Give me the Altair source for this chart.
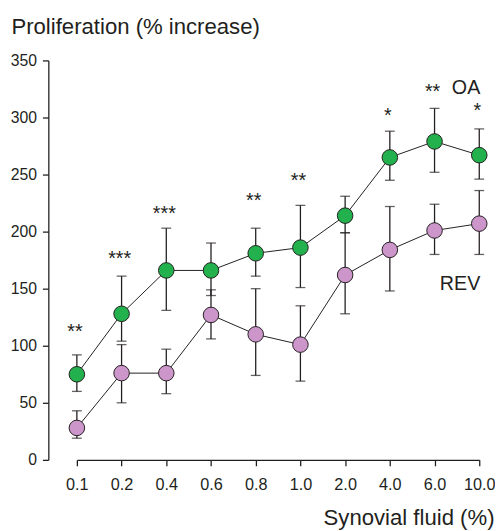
import altair as alt
import pandas as pd

concentrations = ["0.1", "0.2", "0.4", "0.6", "0.8", "1.0", "2.0", "4.0", "6.0", "10.0"]

oa_mean = [75, 128, 166, 166, 181, 186, 214, 265, 279, 267]
oa_hi = [92, 161, 203, 190, 203, 223, 231, 288, 308, 290]
oa_lo = [60, 104, 131, 144, 161, 151, 199, 245, 252, 246]

rev_mean = [28, 76, 76, 127, 110, 101, 162, 184, 201, 207]
rev_hi = [43, 101, 97, 149, 150, 135, 199, 222, 224, 236]
rev_lo = [19, 50, 58, 106, 74, 69, 128, 148, 180, 180]

star_labels = ["**", "***", "***", "", "**", "**", "", "*", "**", "*"]
star_y = [107, 171, 210, 0, 222, 239, 0, 296, 317, 300]

series_names = ["OA", "REV"]
series_colors = ["#22b14c", "#cc96cb"]
series_label_x = ["10.0", "10.0"]
series_label_y = [321, 149]

y_ticks = [0, 50, 100, 150, 200, 250, 300, 350]

DARK = "#231f20"
FONT = "Liberation Sans"

rows = []
for name, m, h, l in [("OA", oa_mean, oa_hi, oa_lo), ("REV", rev_mean, rev_hi, rev_lo)]:
    for c, mv, hv, lv in zip(concentrations, m, h, l):
        rows.append({"series": name, "conc": c, "mean": mv, "hi": hv, "lo": lv})
df = pd.DataFrame(rows)

stars = pd.DataFrame({"conc": concentrations, "label": star_labels, "y": star_y})
stars = stars[stars["label"] != ""]

labels_df = pd.DataFrame({"conc": series_label_x, "label": series_names, "y": series_label_y})

x_enc = alt.X(
    "conc:O",
    sort=concentrations,
    scale=alt.Scale(type="point", range=[16, 425], padding=0),
    axis=alt.Axis(
        title="Synovial fluid (%)",
        titleX=440,
        titleY=66,
        titleAlign="right",
        titleBaseline="alphabetic",
        titleFont=FONT,
        titleFontSize=22.5,
        titleFontWeight="normal",
        titleColor=DARK,
        labelFont=FONT,
        labelFontSize=16.5,
        labelColor=DARK,
        labelAngle=0,
        labelPadding=11,
        tickSize=6,
        ticks=True,
        domain=True,
    ),
)

y_scale = alt.Scale(domain=[0, 350], nice=False, zero=True)
y_axis = alt.Axis(
    title="Proliferation (% increase)",
    titleAngle=0,
    titleX=-38,
    titleY=-27,
    titleAlign="left",
    titleBaseline="alphabetic",
    titleFont=FONT,
    titleFontSize=22.5,
    titleFontWeight="normal",
    titleColor=DARK,
    labelFont=FONT,
    labelFontSize=16,
    labelColor=DARK,
    values=y_ticks,
    offset=13,
    tickSize=6,
    labelPadding=6,
    grid=False,
)

y_enc_args = dict(scale=y_scale, axis=y_axis)

base = alt.Chart(df)

err = base.mark_rule(color=DARK, strokeWidth=1.3).encode(
    x=x_enc,
    y=alt.Y("lo:Q", **y_enc_args),
    y2="hi:Q",
)
cap_hi = base.mark_tick(color=DARK, size=10, thickness=1.3, orient="horizontal").encode(
    x=x_enc, y=alt.Y("hi:Q", **y_enc_args)
)
cap_lo = base.mark_tick(color=DARK, size=10, thickness=1.3, orient="horizontal").encode(
    x=x_enc, y=alt.Y("lo:Q", **y_enc_args)
)
line = base.mark_line(color=DARK, strokeWidth=1).encode(
    x=x_enc,
    y=alt.Y("mean:Q", **y_enc_args),
    detail="series:N",
)
pts = base.mark_point(filled=True, size=250, stroke=DARK, strokeWidth=1, opacity=1).encode(
    x=x_enc,
    y=alt.Y("mean:Q", **y_enc_args),
    fill=alt.Fill("series:N", scale=alt.Scale(domain=series_names, range=series_colors), legend=None),
)
star_text = alt.Chart(stars).mark_text(
    font=FONT, fontSize=20, color=DARK, align="center", baseline="alphabetic", dx=-2
).encode(
    x=x_enc,
    y=alt.Y("y:Q", **y_enc_args),
    text="label:N",
)
series_text = alt.Chart(labels_df).mark_text(
    font=FONT, fontSize=20, color=DARK, align="right", baseline="alphabetic", dx=1
).encode(
    x=x_enc,
    y=alt.Y("y:Q", **y_enc_args),
    text="label:N",
)

chart = (
    alt.layer(err, cap_hi, cap_lo, line, pts, star_text, series_text)
    .properties(
        width=426,
        height=406,
        autosize=alt.AutoSizeParams(type="none"),
        padding={"left": 54, "top": 49, "right": 15, "bottom": 68},
    )
    .configure_view(stroke=None)
    .configure_axis(
        titleFont=FONT,
        titleFontSize=22.5,
        titleFontWeight="normal",
        titleColor=DARK,
        labelColor=DARK,
        domainColor=DARK,
        domainWidth=1.3,
        tickColor=DARK,
        tickWidth=1.3,
    )
    .configure_text(font=FONT)
)

chart.save("out.html", embed_options={"renderer": "svg", "actions": False})
